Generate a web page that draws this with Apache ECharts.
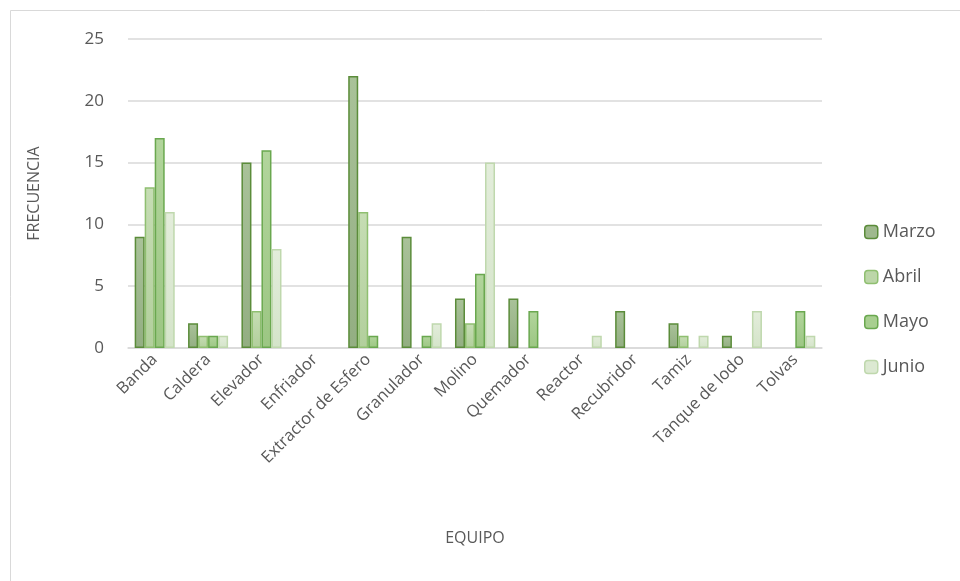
<!DOCTYPE html>
<html>
<head>
<meta charset="utf-8">
<script src="https://cdn.jsdelivr.net/npm/echarts@6/dist/echarts.min.js"></script>
<style>
  html, body { margin: 0; padding: 0; background: #fff; }
  #chart { width: 960px; height: 581px; }
</style>
</head>
<body>
<div id="chart"></div>
<script>
// Equipment categories on the x axis
const categories = ['Banda', 'Caldera', 'Elevador', 'Enfriador', 'Extractor de Esfero',
  'Granulador', 'Molino', 'Quemador', 'Reactor', 'Recubridor', 'Tamiz', 'Tanque de lodo', 'Tolvas'];

// Monthly failure frequency per equipment
const marzo = [9, 2, 15, 0, 22, 9, 4, 4, 0, 3, 2, 1, 0];
const abril = [13, 1, 3, 0, 11, 0, 2, 0, 0, 0, 1, 0, 0];
const mayo  = [17, 1, 16, 0, 1, 1, 6, 3, 0, 0, 0, 0, 3];
const junio = [11, 1, 8, 0, 0, 2, 15, 0, 1, 0, 1, 3, 1];

const yTicks = [0, 5, 10, 15, 20, 25];

const textColor = '#595959';
const fontFamily = '"Open Sans", "Liberation Sans", sans-serif';

function grad(top, bottom) {
  return new echarts.graphic.LinearGradient(0, 0, 0, 1, [
    { offset: 0, color: top },
    { offset: 1, color: bottom }
  ]);
}

const seriesDefs = [
  { name: 'Marzo', data: marzo, fill: grad('#a9c299', '#93ae82'), solid: '#9fb98e', border: '#5b8c3a' },
  { name: 'Abril', data: abril, fill: grad('#c6ddb4', '#b2cf9c'), solid: '#bcd6a8', border: '#8fbf70' },
  { name: 'Mayo',  data: mayo,  fill: grad('#b2d59c', '#9cc683'), solid: '#a8cf90', border: '#6aa84f' },
  { name: 'Junio', data: junio, fill: grad('#e3eddb', '#d4e4c9'), solid: '#dce9d2', border: '#bfd8ad' }
];

const chart = echarts.init(document.getElementById('chart'), null, { renderer: 'canvas' });

chart.setOption({
  animation: false,
  backgroundColor: '#fff',
  graphic: [{
    type: 'rect',
    shape: { x: 10.5, y: 10.5, width: 1000, height: 1000 },
    style: { fill: 'none', stroke: '#d9d9d9', lineWidth: 1 },
    silent: true
  }],
  grid: { left: 128, right: 138, top: 39, bottom: 233 },
  legend: {
    orient: 'vertical',
    left: 859,
    top: 218,
    itemWidth: 13,
    itemHeight: 13,
    itemGap: 27,
    textStyle: { color: textColor, fontSize: 18, fontFamily: fontFamily },
    data: seriesDefs.map(s => ({
      name: s.name,
      itemStyle: { color: s.solid, borderColor: s.border, borderWidth: 1.5 }
    }))
  },
  xAxis: {
    type: 'category',
    data: categories,
    name: 'EQUIPO',
    nameLocation: 'middle',
    nameGap: 182,
    nameTextStyle: { color: textColor, fontSize: 16, fontFamily: fontFamily },
    axisLine: { lineStyle: { color: '#d9d9d9', width: 1.5 } },
    axisTick: { show: false },
    axisLabel: {
      rotate: 45,
      interval: 0,
      margin: 9,
      color: textColor,
      fontSize: 16.5,
      fontFamily: fontFamily
    }
  },
  yAxis: {
    type: 'value',
    min: 0,
    max: yTicks[yTicks.length - 1],
    interval: 5,
    name: 'FRECUENCIA',
    nameLocation: 'middle',
    nameGap: 86,
    nameRotate: 90,
    nameTextStyle: { color: textColor, fontSize: 16, fontFamily: fontFamily },
    axisLine: { show: false },
    axisTick: { show: false },
    axisLabel: { color: textColor, fontSize: 17, fontFamily: fontFamily, margin: 24 },
    splitLine: { lineStyle: { color: '#d9d9d9', width: 1.5 } }
  },
  series: seriesDefs.map(s => ({
    name: s.name,
    type: 'bar',
    barGap: '0%',
    barCategoryGap: '25%',
    data: s.data.map(v => (v === 0 ? '-' : v)),
    itemStyle: { color: s.fill, borderColor: s.border, borderWidth: 1.5 }
  }))
});
</script>
</body>
</html>
